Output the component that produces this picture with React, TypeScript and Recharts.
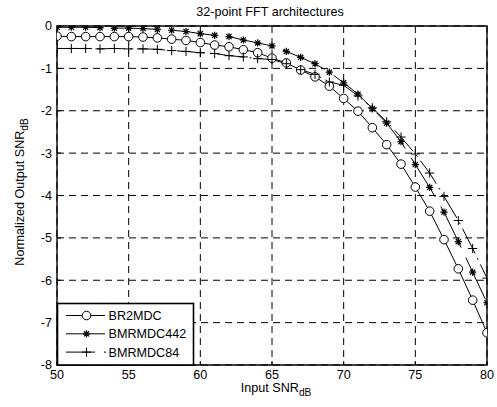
import React from 'react';
import { LineChart, Line, XAxis, YAxis, CartesianGrid, ReferenceArea } from 'recharts';

const inputSnr = [50, 51, 52, 53, 54, 55, 56, 57, 58, 59, 60, 61, 62, 63, 64, 65, 66, 67, 68, 69, 70, 71, 72, 73, 74, 75, 76, 77, 78, 79, 80];
const br2mdc = [-0.24, -0.25, -0.25, -0.25, -0.25, -0.25, -0.26, -0.28, -0.31, -0.34, -0.39, -0.45, -0.49, -0.56, -0.63, -0.76, -0.87, -1.04, -1.2, -1.42, -1.71, -2.01, -2.4, -2.8, -3.26, -3.8, -4.37, -5.04, -5.73, -6.47, -7.24];
const bmrmdc442 = [-0.03, -0.03, -0.03, -0.04, -0.05, -0.05, -0.06, -0.08, -0.1, -0.13, -0.18, -0.22, -0.25, -0.33, -0.4, -0.47, -0.6, -0.74, -0.89, -1.09, -1.34, -1.61, -1.95, -2.29, -2.73, -3.27, -3.81, -4.39, -5.09, -5.81, -6.53];
const bmrmdc84 = [-0.53, -0.53, -0.53, -0.54, -0.53, -0.54, -0.54, -0.55, -0.58, -0.6, -0.63, -0.65, -0.7, -0.73, -0.77, -0.79, -0.89, -1.03, -1.14, -1.32, -1.4, -1.65, -1.93, -2.26, -2.62, -3.02, -3.47, -4.02, -4.59, -5.25, -5.95];
const xTicks = [50, 55, 60, 65, 70, 75, 80];
const yTicks = [-8, -7, -6, -5, -4, -3, -2, -1, 0];
const seriesNames = ['BR2MDC', 'BMRMDC442', 'BMRMDC84'];
const titleText = '32-point FFT architectures';
const xLabelMain = 'Input SNR';
const yLabelMain = 'Normalized Output SNR';
const labelSub = 'dB';

const data = inputSnr.map((x, i) => ({ x, a: br2mdc[i], b: bmrmdc442[i], c: bmrmdc84[i] }));

const FONT = '"Liberation Sans", Arial, Helvetica, sans-serif';
const FS = 12.6;

const CircleMark = ({ cx, cy }: { cx: number; cy: number }) => (
  <circle cx={cx} cy={cy} r={4.3} fill="#fff" stroke="#000" strokeWidth={1} />
);
const StarMark = ({ cx, cy }: { cx: number; cy: number }) => {
  const s = 3.6;
  const d = s * 0.72;
  return (
    <path
      d={`M${cx - s},${cy}H${cx + s}M${cx},${cy - s}V${cy + s}M${cx - d},${cy - d}L${cx + d},${cy + d}M${cx - d},${cy + d}L${cx + d},${cy - d}`}
      stroke="#000"
      strokeWidth={1.2}
      fill="none"
    />
  );
};
const PlusMark = ({ cx, cy }: { cx: number; cy: number }) => {
  const s = 4.6;
  return <path d={`M${cx - s},${cy}H${cx + s}M${cx},${cy - s}V${cy + s}`} stroke="#000" strokeWidth={1} fill="none" />;
};

const dotRenderer = (Comp: any) => (p: any) =>
  p.cx == null || p.cy == null ? <g key={p.index} /> : <Comp key={p.index} cx={p.cx} cy={p.cy} />;

const seriesStyles = [
  { key: 'a', dash: undefined as string | undefined, Mark: CircleMark },
  { key: 'b', dash: '46 11', Mark: StarMark },
  { key: 'c', dash: '28 5 2 5', Mark: PlusMark },
];

const Overlay = () => (
  <svg width={497} height={407} style={{ position: 'absolute', left: 0, top: 0, pointerEvents: 'none' }}>
    <text x={270} y={16} textAnchor="middle" fontFamily={FONT} fontSize={FS} fill="#000">
      {titleText}
    </text>
    <text x={276} y={392} textAnchor="middle" fontFamily={FONT} fontSize={FS} fill="#000">
      {xLabelMain}
      <tspan dy={4} fontSize={FS * 0.8}>{labelSub}</tspan>
    </text>
    <text transform="translate(24,192) rotate(-90)" textAnchor="middle" fontFamily={FONT} fontSize={FS} fill="#000">
      {yLabelMain}
      <tspan dy={4} fontSize={FS * 0.8}>{labelSub}</tspan>
    </text>
    <g>
      <rect x={57.5} y={303.5} width={136} height={61.5} fill="#fff" stroke="#000" strokeWidth={1.6} />
      {seriesNames.map((name, i) => {
        const y = 315.5 + i * 18.3;
        const st = seriesStyles[i];
        const M = st.Mark;
        return (
          <g key={name}>
            <line x1={66} x2={i === 2 ? 95 : 105} y1={y} y2={y} stroke="#000" strokeWidth={1} />
            {i === 2 && <line x1={104} x2={106} y1={y} y2={y} stroke="#000" strokeWidth={1} />}
            <M cx={86.5} cy={y} />
            <text x={108.5} y={y + 4.5} fontFamily={FONT} fontSize={FS} fill="#000">
              {name}
            </text>
          </g>
        );
      })}
    </g>
  </svg>
);

export default function App() {
  return (
    <div style={{ position: 'absolute', left: 0, top: 0, width: 497, height: 407, background: '#fff' }}>
      <LineChart width={497} height={407} data={data} margin={{ top: 26, right: 10, bottom: 12, left: 12 }}>
        <CartesianGrid stroke="#000" strokeDasharray="7 5" strokeWidth={1} />
        <XAxis
          dataKey="x"
          type="number"
          domain={[50, 80]}
          ticks={xTicks}
          height={30}
          axisLine={false}
          tickSize={-4}
          tickMargin={9}
          tickLine={{ stroke: '#000' }}
          tick={{ fill: '#000', fontSize: FS, fontFamily: FONT }}
          allowDataOverflow
        />
        <YAxis
          type="number"
          domain={[-8, 0]}
          ticks={yTicks}
          width={45}
          axisLine={false}
          tickSize={-4}
          tickMargin={9}
          tickLine={{ stroke: '#000' }}
          tick={{ fill: '#000', fontSize: FS, fontFamily: FONT }}
          allowDataOverflow
        />
        <ReferenceArea x1={50} x2={80} y1={-8} y2={0} fill="none" stroke="#000" strokeWidth={1.4} ifOverflow="visible" />
        {seriesStyles.map((st) => (
          <Line
            key={st.key}
            dataKey={st.key}
            type="linear"
            stroke="#000"
            strokeWidth={1}
            strokeDasharray={st.dash}
            dot={dotRenderer(st.Mark)}
            activeDot={false}
            isAnimationActive={false}
          />
        ))}
      </LineChart>
      <Overlay />
    </div>
  );
}
